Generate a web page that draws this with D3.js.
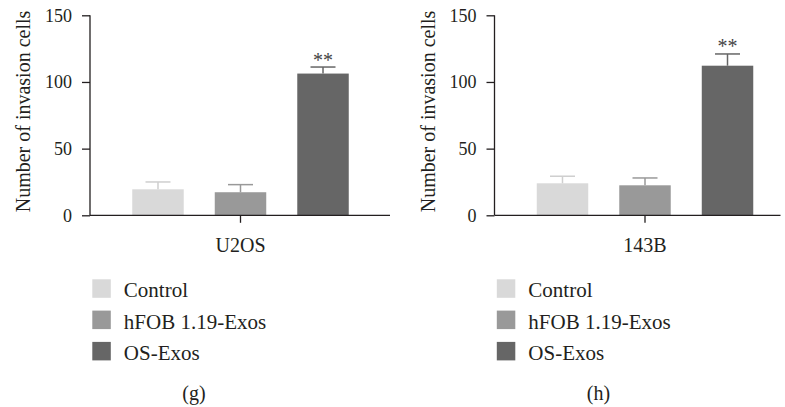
<!DOCTYPE html>
<html lang="en">
  <head>
    <meta charset="utf-8">
    <title>Invasion cells</title>
    <script src="https://d3js.org/d3.v7.min.js"></script>
    <style>
      body { margin: 0; background: #fff; }
      svg text { font-family: "Liberation Serif", "Times New Roman", Times, serif !important; fill: #231f20; }
    </style>
  </head>
  <body>
    <script type="text/javascript">

    var w = 785;
    var h = 407;
    var serif = "'Liberation Serif', 'Times New Roman', Times, serif";

    // data
    var series = ["Control", "hFOB 1.19-Exos", "OS-Exos"];
    var colors = ["#d9d9d9", "#999999", "#666666"];
    var capColors = ["#cfcfcf", "#999999", "#666666"];
    var cellLines = ["U2OS", "143B"];
    var panelTags = ["(g)", "(h)"];
    var u2osMean = [19.5, 17.3, 106.3];
    var u2osSd = [5.5, 5.7, 4.9];
    var b143Mean = [24.0, 22.5, 112.2];
    var b143Sd = [5.3, 5.5, 8.8];
    var stars = ["", "", "**"];
    var yTicks = [0, 50, 100, 150];

    var panels = [
      {line: cellLines[0], tag: panelTags[0], mean: u2osMean, sd: u2osSd, x0: 90, axisLen: 300},
      {line: cellLines[1], tag: panelTags[1], mean: b143Mean, sd: b143Sd, x0: 494.5, axisLen: 286}
    ];

    var svg = d3.select("body")
                .append("svg")
                .attr("width", w)
                .attr("height", h)
                .attr("font-family", serif);

    var y_scale = d3.scaleLinear()
                    .domain([0, 150])
                    .range([215.3, 15.3]);

    panels.forEach(function(p) {
      var g = svg.append("g").attr("transform", "translate(" + p.x0 + ",0)");

      var x_group = d3.scaleBand()
                      .domain([p.line])
                      .range([0, 301]);

      var x_bar = d3.scaleBand()
                    .domain(series)
                    .range([42.25, 258.75])
                    .paddingInner(0.376)
                    .paddingOuter(0);

      var rows = series.map(function(s, i) {
        return {name: s, mean: p.mean[i], sd: p.sd[i], color: colors[i], cap: capColors[i], star: stars[i]};
      });

      // bars
      g.selectAll("rect.bar")
       .data(rows)
       .enter()
       .append("rect")
       .attr("class", "bar")
       .attr("x", d => x_bar(d.name))
       .attr("y", d => y_scale(d.mean))
       .attr("width", x_bar.bandwidth())
       .attr("height", d => y_scale(0) - y_scale(d.mean))
       .attr("fill", d => d.color);

      // error bars (upper only)
      var cx = d => x_bar(d.name) + x_bar.bandwidth() / 2;
      g.selectAll("line.err")
       .data(rows)
       .enter()
       .append("line")
       .attr("x1", cx)
       .attr("x2", cx)
       .attr("y1", d => y_scale(d.mean))
       .attr("y2", d => y_scale(d.mean + d.sd))
       .attr("stroke", d => d.cap)
       .attr("stroke-width", 1.5);

      g.selectAll("line.cap")
       .data(rows)
       .enter()
       .append("line")
       .attr("x1", d => cx(d) - 12.5)
       .attr("x2", d => cx(d) + 12.5)
       .attr("y1", d => y_scale(d.mean + d.sd))
       .attr("y2", d => y_scale(d.mean + d.sd))
       .attr("stroke", d => d.cap)
       .attr("stroke-width", 1.5);

      g.selectAll("text.star")
       .data(rows)
       .enter()
       .append("text")
       .attr("x", cx)
       .attr("y", d => y_scale(d.mean + d.sd) - 0.5)
       .attr("text-anchor", "middle")
       .style("font-size", "20px")
       .style("fill", "#444")
       .text(d => d.star);

      // y axis
      var y_axis = d3.axisLeft(y_scale)
                     .tickValues(yTicks)
                     .tickSize(8)
                     .tickPadding(10);

      var ya = g.append("g").call(y_axis).attr("font-family", serif);
      ya.select(".domain").remove();
      ya.selectAll("text").style("font-size", "18px").attr("fill", "#231f20");
      ya.selectAll("line").attr("stroke", "#231f20").attr("stroke-width", 1.3);
      ya.append("line")
        .attr("x1", 0).attr("x2", 0)
        .attr("y1", y_scale(150)).attr("y2", y_scale(0))
        .attr("stroke", "#231f20").attr("stroke-width", 1.3);

      // x axis
      var x_axis = d3.axisBottom(x_group)
                     .tickSize(7.5)
                     .tickPadding(15);

      var xa = g.append("g")
                .attr("transform", "translate(0," + y_scale(0) + ")")
                .call(x_axis)
                .attr("font-family", serif);
      xa.select(".domain").remove();
      xa.selectAll("text").style("font-size", "20px").attr("fill", "#231f20");
      xa.selectAll("line").attr("stroke", "#231f20").attr("stroke-width", 1.3);
      xa.append("line")
        .attr("x1", 0).attr("x2", p.axisLen)
        .attr("y1", 0).attr("y2", 0)
        .attr("stroke", "#231f20").attr("stroke-width", 1.3);

      // y label
      g.append("text")
       .attr("transform", "translate(-60," + 111.5 + ") rotate(-90)")
       .attr("text-anchor", "middle")
       .style("font-size", "20px")
       .text("Number of invasion cells");

      // legend
      var leg = g.selectAll("g.leg")
                 .data(rows)
                 .enter()
                 .append("g")
                 .attr("transform", (d, i) => "translate(2.3," + (279.3 + i * 31.3) + ")");

      leg.append("rect")
         .attr("width", 18.5)
         .attr("height", 18.5)
         .attr("fill", d => d.color);

      leg.append("text")
         .attr("x", 31.5)
         .attr("y", 18)
         .style("font-size", "21px")
         .text(d => d.name);

      // panel tag
      g.append("text")
       .attr("x", 104)
       .attr("y", 400)
       .attr("text-anchor", "middle")
       .style("font-size", "20px")
       .text(p.tag);
    });

    </script>
  </body>
</html>
